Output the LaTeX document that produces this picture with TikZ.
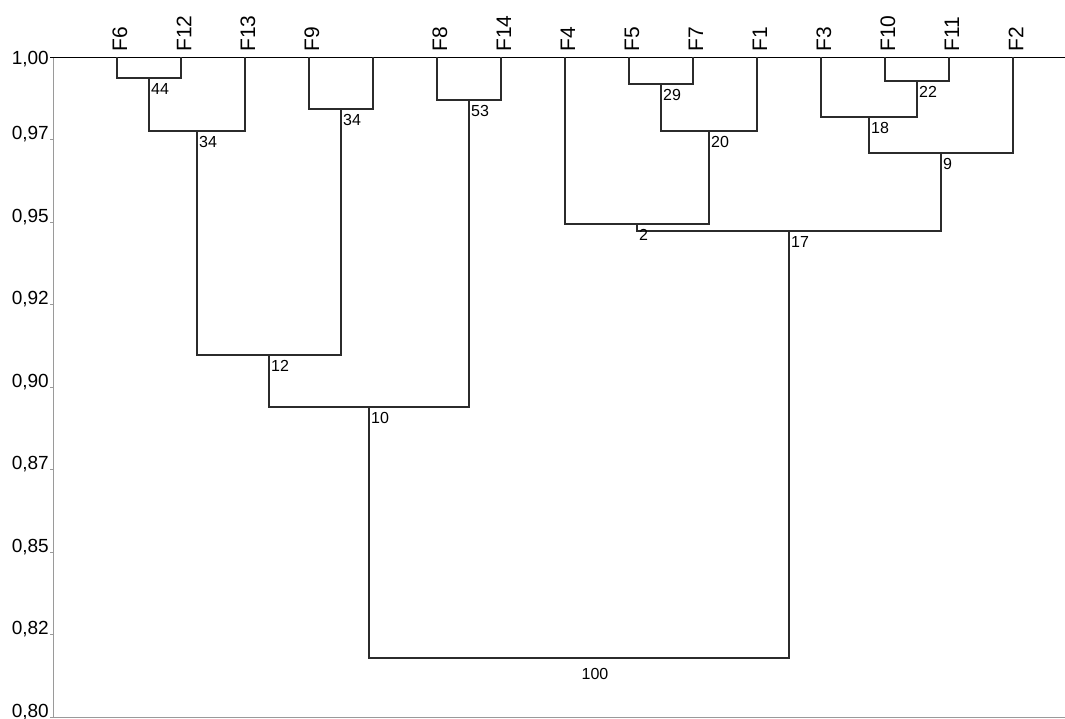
\documentclass[tikz,border=0pt]{standalone}
\usepackage{fontspec}
\setmainfont{Liberation Sans}
\usepackage{tikz}
\usetikzlibrary{positioning}
\definecolor{linkgray}{HTML}{2B2B2B}
\definecolor{axisgray}{HTML}{9A9A9A}

\begin{document}
\begin{tikzpicture}[
  x=1pt, y=-1pt,
  link/.style={
    draw=linkgray,
    line width=1.1pt
  },
  axisline/.style={
    draw=axisgray,
    line width=1pt
  },
  leaf/.style={
    rotate=90,
    anchor=west,
    inner sep=0pt,
    font=\fontsize{21}{21}\selectfont
  },
  val/.style={
    anchor=north west,
    inner sep=0pt,
    xshift=2pt,
    yshift=-5pt,
    font=\fontsize{16}{16}\selectfont
  },
  axislabel/.style={
    anchor=base east,
    inner sep=0pt,
    font=\fontsize{19}{19}\selectfont
  }
]
\useasboundingbox (0,0) rectangle (1065,718);

% axis
\draw[axisline] (53,57) -- (53,717) -- (1065,717);
\draw[line width=1pt] (50,57) -- (1065,57);
\node[axislabel] (y100) at (49,64) {1,00};
\foreach \yy/\t [count=\i] in {139.5/{0,97},222/{0,95},304.5/{0,92},387/{0,90},
                              469.5/{0,87},552/{0,85},634.5/{0,82},717/{0,80}} {
  \draw[axisline] (50,\yy) -- (53,\yy);
  \node[axislabel] (y\i) at (49,\yy) {\t};
}

% leaves
\foreach \n/\x in {F6/117,F12/181,F13/245,F9/309,F8/437,F14/501,F4/565,F5/629,
                   F7/693,F1/757,F3/821,F10/885,F11/949,F2/1013} {
  \coordinate (\n) at (\x,57);
  \node[leaf] (t\n) at ([xshift=3pt,yshift=5pt]\n) {\n};
}
\coordinate (L5) at (373,57);

% merge points
\coordinate (m44) at (149,78);
\coordinate (m34a) at (197,131);
\coordinate (m34b) at (341,109);
\coordinate (m12) at (269,355);
\coordinate (m53) at (469,100);
\coordinate (m10) at (369,407);
\coordinate (m29) at (661,84);
\coordinate (m20) at (709,131);
\coordinate (m2) at (637,224);
\coordinate (m22) at (917,81);
\coordinate (m18) at (869,117);
\coordinate (m9) at (941,153);
\coordinate (m17) at (789,231);
\coordinate (m100) at (579,658);

\draw[link] (F6) |- (m44) -| (F12);
\draw[link] (m44) |- (m34a) -| (F13);
\draw[link] (F9) |- (m34b) -| (L5);
\draw[link] (m34a) |- (m12) -| (m34b);
\draw[link] (F8) |- (m53) -| (F14);
\draw[link] (m12) |- (m10) -| (m53);
\draw[link] (F5) |- (m29) -| (F7);
\draw[link] (m29) |- (m20) -| (F1);
\draw[link] (F4) |- (m2) -| (m20);
\draw[link] (F10) |- (m22) -| (F11);
\draw[link] (F3) |- (m18) -| (m22);
\draw[link] (m18) |- (m9) -| (F2);
\draw[link] (m2) |- (m17) -| (m9);
\draw[link] (m10) |- (m100) -| (m17);

% support values
\node[val] (v44) at (m44) {44};
\node[val] (v34a) at (m34a) {34};
\node[val] (v34b) at (m34b) {34};
\node[val] (v12) at (m12) {12};
\node[val] (v53) at (m53) {53};
\node[val] (v10) at (m10) {10};
\node[val] (v29) at (m29) {29};
\node[val] (v20) at (m20) {20};
\node[val] (v2) at (m2) {2};
\node[val] (v22) at (m22) {22};
\node[val] (v18) at (m18) {18};
\node[val] (v9) at (m9) {9};
\node[val] (v17) at (m17) {17};
\node[val, anchor=north, xshift=14pt, yshift=-5pt] (v100) at (m100) {100};
\end{tikzpicture}
\end{document}
